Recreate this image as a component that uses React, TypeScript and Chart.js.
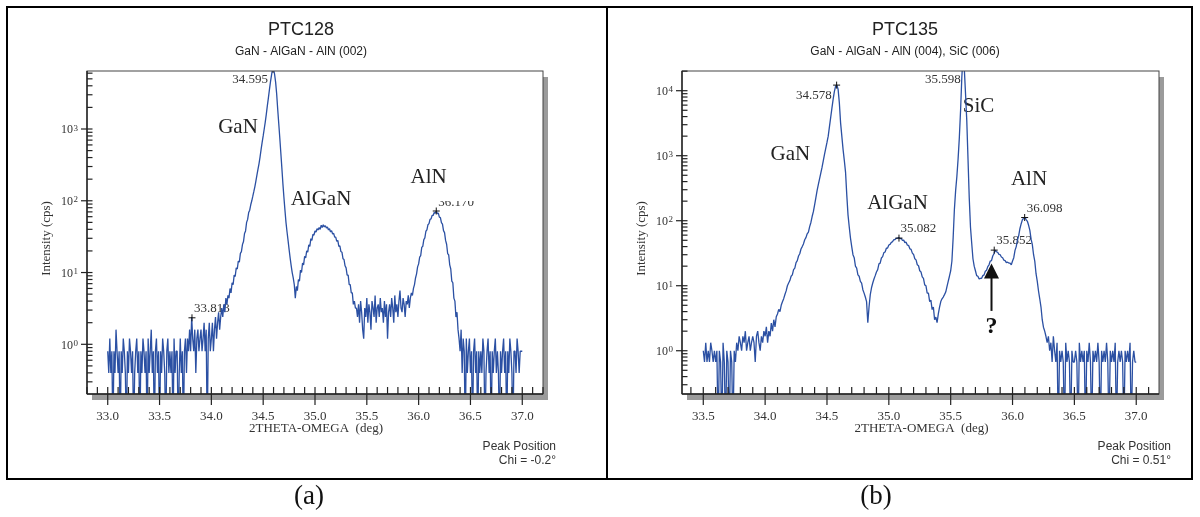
import React, { useEffect, useRef } from 'react';
import { Chart, registerables } from 'chart.js';

Chart.register(...registerables);

// ---------- data (2theta scan step 0.01 deg) ----------
const STEP = 0.01;

const PTC128_START = 33.0;
const PTC128_INTENSITY = [
  0.8, 0.4, 1.2, 0.4, 0.8, 0, 0.8, 0.4, 1.6, 0.8,
  0.4, 0.8, 0, 0.8, 0.4, 1.2, 0.8, 0.4, 0, 0.8,
  0.4, 1.2, 0.8, 0.4, 0.8, 0, 0.4, 0.8, 1.2, 0.4,
  0.8, 0, 0.8, 0.4, 1.2, 0.8, 0.4, 0.8, 0, 1.2,
  0.4, 0.8, 1.6, 0.4, 0.8, 0, 0.8, 1.2, 0.4, 0.8,
  0, 0.8, 0.4, 1.2, 0.8, 0.4, 0, 0.8, 1.2, 0.4,
  0.8, 0.4, 0.8, 0, 1.2, 0.4, 0.8, 0.8, 0, 0.4,
  1.2, 0.4, 0.8, 0, 0.8, 1.2, 0.4, 1.2, 0.8, 1.6,
  0.8, 2.4, 1.2, 0.8, 1.6, 0.4, 1.2, 1.6, 0.8, 1.2,
  1.6, 0.8, 1.2, 2.0, 0.8, 1.6, 0, 1.2, 2.0, 0.8,
  1.2, 2.0, 0.8, 1.6, 2.4, 1.2, 2.0, 2.8, 1.6, 2.4,
  3.2, 2.4, 3.6, 2.8, 4.4, 3.6, 4.8, 4.4, 6.0, 5.2,
  7.2, 6.8, 9.2, 8.8, 11.6, 11.2, 14.4, 14.0, 18.5, 19.6,
  24.5, 27, 35, 38, 50, 55, 68.5, 74, 88, 100,
  116, 135, 158, 190, 230, 275, 330, 410, 520, 650,
  800, 1000, 1250, 1600, 2100, 2700, 3500, 4500, 5600, 6800,
  6800, 5800, 4500, 3100, 1900, 1200, 760, 470, 290, 175,
  112, 74, 50, 37, 28, 21, 16, 12.5, 10, 8.4,
  6.8, 4.4, 6.4, 5.6, 8.0, 7.6, 10.8, 10.0, 13.6, 12.8,
  16.8, 16.0, 20, 19.2, 24.4, 23.2, 29.6, 28.0, 34, 33.2,
  38, 36.8, 40.8, 39.2, 42.4, 40, 45.6, 42.4, 46.4, 43.2,
  44.8, 41.6, 43.2, 39.2, 40.8, 36.8, 38.4, 34.4, 35.2, 31.2,
  31.2, 27.2, 28, 23.2, 23.6, 19.6, 19.2, 15.6, 15.2, 12.4,
  11.6, 9.2, 9.2, 6.8, 6.8, 5.2, 5.2, 3.6, 4.0, 3.2,
  3.2, 2.4, 3.6, 2.0, 4.0, 2.8, 1.6, 1.2, 3.2, 2.4,
  4.4, 2.0, 3.6, 2.8, 1.6, 4.0, 3.2, 2.4, 4.8, 2.0,
  3.2, 3.6, 2.4, 4.4, 2.8, 3.2, 2.0, 4.0, 2.4, 3.6,
  1.2, 2.8, 3.6, 2.4, 4.4, 3.2, 2.0, 4.8, 2.8, 3.6,
  2.4, 4.0, 5.6, 3.2, 2.8, 4.4, 3.6, 2.4, 4.0, 3.6,
  4.8, 3.2, 4.4, 5.2, 4.8, 6.0, 6.8, 8.4, 9.6, 12,
  13.2, 16.4, 17.2, 22.4, 23.2, 28.8, 30.4, 37.6, 39.2, 46.4,
  48, 55.2, 56, 62.4, 62.4, 68.8, 67.2, 72, 66.4, 67.2,
  59.2, 58.4, 49.6, 47.2, 38.4, 36, 28, 24.8, 18.4, 17.6,
  12.8, 11.2, 7.6, 7.2, 4.4, 4.0, 2.4, 2.8, 1.6, 1.2,
  0.8, 1.6, 0.4, 1.2, 0.8, 0, 1.2, 0.4, 0.8, 1.2,
  0.4, 0.8, 0, 0.8, 1.2, 0.4, 0.8, 0, 0.8, 0.4,
  0.8, 0.4, 1.2, 0.8, 0, 0.4, 0.8, 1.2, 0.4, 0.8,
  0, 0.8, 0.4, 0.8, 1.2, 0.4, 0.8, 0.4, 0, 0.8,
  0.4, 0.8, 1.2, 0.4, 0.8, 0, 0.8, 0.4, 1.2, 0.8,
  0.4, 0, 0.8, 0.8, 0.4, 1.2, 0.8, 0.4, 0.8, 0.8,
  0.8,
];

const PTC135_START = 33.5;
const PTC135_INTENSITY = [
  1.0, 0.67, 1.33, 0.67, 1.0, 0.67, 1.33, 1.0, 0.67, 1.0,
  0.67, 1.0, 0, 1.0, 0.67, 0, 1.33, 0.67, 0, 1.0,
  0.67, 0, 1.0, 0.67, 0, 1.0, 0.67, 1.33, 1.0, 1.67,
  1.33, 1.0, 1.67, 1.33, 2.0, 1.0, 1.33, 1.67, 1.0, 1.33,
  1.67, 1.33, 0.67, 1.67, 2.0, 1.33, 1.0, 1.67, 1.33, 2.0,
  1.67, 2.33, 1.33, 2.0, 1.67, 2.67, 2.0, 3.0, 2.33, 3.33,
  3.67, 4.33, 4.0, 5.0, 5.67, 6.33, 7.33, 8.33, 10, 11,
  12, 14, 14.7, 17.7, 18.7, 22.7, 24.3, 28.7, 31, 36.7,
  40, 44, 51, 55, 63, 67, 81, 94, 116, 138,
  175, 225, 290, 360, 440, 540, 660, 830, 1050, 1300,
  1600, 2000, 2800, 3900, 5400, 7400, 9800, 11800, 12200, 10500,
  6500, 3200, 2000, 1250, 850, 560, 250, 123, 80, 54,
  40, 30, 27, 20, 18.7, 14.7, 14, 11.7, 11, 8.7,
  7.7, 6.7, 5.7, 2.7, 4.7, 7.3, 9.3, 11, 12.7, 14.3,
  16.3, 17.7, 21.7, 22.3, 26.7, 28, 32.3, 33, 37.7, 38,
  42.3, 43.3, 46.3, 47.7, 51, 51.3, 53.7, 54, 55.3, 53,
  53.7, 49.7, 50.3, 46, 46.7, 42, 41.7, 37, 36.3, 31.7,
  30.3, 26, 25, 21, 20.3, 17, 16.3, 13.7, 13, 10.3,
  10, 7.7, 7.7, 5.7, 6, 4.3, 4.7, 3, 3.3, 2.7,
  3.7, 4.7, 5.7, 6.3, 6.7, 7.3, 8, 9.7, 11.7, 14,
  17, 24, 55, 150, 290, 480, 900, 1900, 5000, 16000,
  35000, 22000, 9000, 3500, 900, 225, 80, 45, 26, 20,
  17, 14.3, 14, 12.7, 13, 13, 14.3, 14.7, 16.7, 17.3,
  19.7, 21, 24, 24.3, 28.7, 31, 35.3, 33.3, 32.7, 30.3,
  30, 27.7, 27, 24.7, 24.3, 22.7, 23, 22.3, 22.3, 21,
  24, 27, 35, 40, 51, 59, 76, 90, 104, 108,
  113, 104, 98, 85, 71, 52, 43, 30, 23.7, 15.3,
  11.7, 8.3, 6.3, 4.7, 3.0, 2.3, 2.0, 1.67, 1.33, 1.67,
  1.0, 1.33, 0.67, 1.67, 1.0, 0.67, 1.33, 0, 1.0, 0.67,
  1.0, 0.67, 0, 1.33, 0.67, 1.0, 0.67, 0, 1.0, 0.67,
  0.67, 1.0, 0.67, 0, 1.33, 0.67, 1.0, 0.67, 1.0, 0,
  1.0, 0.67, 1.33, 0.67, 0, 1.0, 0.67, 1.0, 0.67, 1.33,
  0.67, 0, 1.0, 0.67, 1.0, 0.67, 1.33, 0.67, 0, 1.0,
  0.67, 1.0, 0.67, 1.33, 0, 0.67, 1.0, 0.67, 1.0, 0.67,
  0, 1.0, 0.67, 1.0, 0.67, 1.33, 0, 0.67, 1.0, 0.67,
  0.67,
];

// peak markers
const PTC128_PEAK_POS = [33.813, 34.595, 36.170];
const PTC128_PEAK_INT = [2.34, 6800, 72];
const PTC128_PEAK_TEXT = ['33.813', '34.595', '36.170'];
const PTC135_PEAK_POS = [34.578, 35.598, 35.082, 35.852, 36.098];
const PTC135_PEAK_INT = [12200, 35000, 54, 35.3, 112];
const PTC135_PEAK_TEXT = ['34.578', '35.598', '35.082', '35.852', '36.098'];

// phase annotations (anchored in data space)
const PTC128_PHASES = ['GaN', 'AlGaN', 'AlN'];
const PTC128_PHASE_POS = [34.257, 35.058, 36.096];
const PTC128_PHASE_INT = [1066, 103, 214];
const PTC135_PHASES = ['GaN', 'AlGaN', 'SiC', 'AlN'];
const PTC135_PHASE_POS = [34.204, 35.07, 35.725, 36.133];
const PTC135_PHASE_INT = [1062, 187, 5675, 433];

// tick labels
const X_TICKS_A = ['33.0', '33.5', '34.0', '34.5', '35.0', '35.5', '36.0', '36.5', '37.0'];
const X_TICKS_B = ['33.5', '34.0', '34.5', '35.0', '35.5', '36.0', '36.5', '37.0'];
const Y_DECADES_A = [0, 1, 2, 3];
const Y_DECADES_B = [0, 1, 2, 3, 4];

const ZERO_FLOOR = 0.05; // zero counts are drawn below the log axis

// ---------- styling / layout ----------
const SERIF = '"Liberation Serif", "Times New Roman", serif';
const SANS = '"Liberation Sans", Arial, sans-serif';
const LINE_COLOR = '#2b50a3';

type PeakLayout = { dx: number; dy: number; align: CanvasTextAlign; clipAbove?: number };

interface PanelCfg {
  width: number;
  height: number;
  area: { left: number; right: number; top: number; bottom: number };
  xMin: number; xMax: number; yMin: number; yMax: number;
  title: string; subtitle: string; titleX: number;
  chi: string; noteRight: number; yTitleX: number;
  xTicks: string[]; yDecades: number[];
  start: number; intensity: number[];
  peakPos: number[]; peakInt: number[]; peakText: string[]; peakLayout: PeakLayout[];
  phaseText: string[]; phasePos: number[]; phaseInt: number[];
  arrow?: { x: number; tip: number; tail: number; mark: number };
}

const PANEL_A: PanelCfg = {
  width: 607, height: 517,
  area: { left: 87, right: 543, top: 71, bottom: 394 },
  xMin: 32.8, xMax: 37.2, yMin: 0.203, yMax: 6430,
  title: 'PTC128', subtitle: 'GaN - AlGaN - AlN (002)', titleX: 301,
  chi: 'Chi = -0.2°', noteRight: 556, yTitleX: 47,
  xTicks: X_TICKS_A, yDecades: Y_DECADES_A,
  start: PTC128_START, intensity: PTC128_INTENSITY,
  peakPos: PTC128_PEAK_POS, peakInt: PTC128_PEAK_INT, peakText: PTC128_PEAK_TEXT,
  peakLayout: [
    { dx: 2, dy: -9, align: 'left' },
    { dx: -5, dy: 9, align: 'right' },
    { dx: 2, dy: -8, align: 'left', clipAbove: 10 },
  ],
  phaseText: PTC128_PHASES, phasePos: PTC128_PHASE_POS, phaseInt: PTC128_PHASE_INT,
};

const PANEL_B: PanelCfg = {
  width: 593, height: 517,
  area: { left: 75, right: 552, top: 71, bottom: 394 },
  xMin: 33.328, xMax: 37.184, yMin: 0.216, yMax: 20100,
  title: 'PTC135', subtitle: 'GaN - AlGaN - AlN (004), SiC (006)', titleX: 298,
  chi: 'Chi = 0.51°', noteRight: 564, yTitleX: 35,
  xTicks: X_TICKS_B, yDecades: Y_DECADES_B,
  start: PTC135_START, intensity: PTC135_INTENSITY,
  peakPos: PTC135_PEAK_POS, peakInt: PTC135_PEAK_INT, peakText: PTC135_PEAK_TEXT,
  peakLayout: [
    { dx: -5, dy: 10.5, align: 'right' },
    { dx: -2, dy: 9, align: 'right' },
    { dx: 1.5, dy: -10, align: 'left' },
    { dx: 2, dy: -10, align: 'left' },
    { dx: 2, dy: -9, align: 'left' },
  ],
  phaseText: PTC135_PHASES, phasePos: PTC135_PHASE_POS, phaseInt: PTC135_PHASE_INT,
  arrow: { x: 35.83, tip: 22, tail: 4.1, mark: 2.3 },
};

function line(ctx: CanvasRenderingContext2D, x1: number, y1: number, x2: number, y2: number) {
  ctx.beginPath();
  ctx.moveTo(x1, y1);
  ctx.lineTo(x2, y2);
  ctx.stroke();
}

function makePlugin(p: PanelCfg) {
  return {
    id: 'xrdPanel',
    beforeDatasetsDraw(chart: any) {
      const { ctx, chartArea: a, scales } = chart;
      const xs = scales.x;
      const ys = scales.y;
      const w = a.right - a.left;
      const h = a.bottom - a.top;
      ctx.save();
      // drop shadow + plot background
      ctx.fillStyle = '#9b9b9b';
      ctx.fillRect(a.left + 5, a.top + 6, w, h);
      ctx.fillStyle = '#ffffff';
      ctx.fillRect(a.left, a.top, w, h);

      // titles
      ctx.fillStyle = '#222';
      ctx.textAlign = 'center';
      ctx.textBaseline = 'middle';
      ctx.font = `18px ${SANS}`;
      ctx.fillText(p.title, p.titleX, a.top - 41);
      ctx.font = `12px ${SANS}`;
      ctx.fillText(p.subtitle, p.titleX, a.top - 19.5);

      // notes
      ctx.textAlign = 'right';
      ctx.fillStyle = '#333';
      ctx.fillText('Peak Position', p.noteRight, a.bottom + 52.7);
      ctx.fillText(p.chi, p.noteRight, a.bottom + 66.7);

      // axis titles
      ctx.fillStyle = '#333';
      ctx.font = `13px ${SERIF}`;
      ctx.textAlign = 'center';
      ctx.fillText('2THETA-OMEGA  (deg)', (a.left + a.right) / 2 + 1, a.bottom + 35);
      ctx.save();
      ctx.translate(p.yTitleX, (a.top + a.bottom) / 2 + 6);
      ctx.rotate(-Math.PI / 2);
      ctx.fillText('Intensity (cps)', 0, 0);
      ctx.restore();

      // phase labels
      ctx.fillStyle = '#222';
      ctx.font = `21px ${SERIF}`;
      ctx.textAlign = 'center';
      p.phaseText.forEach((t, i) => {
        ctx.fillText(t, xs.getPixelForValue(p.phasePos[i]), ys.getPixelForValue(p.phaseInt[i]));
      });

      // peak position labels
      ctx.fillStyle = '#333';
      ctx.font = `13px ${SERIF}`;
      p.peakText.forEach((t, i) => {
        const L = p.peakLayout[i];
        const px = xs.getPixelForValue(p.peakPos[i]);
        const py = Math.max(a.top, ys.getPixelForValue(p.peakInt[i]));
        ctx.save();
        if (L.clipAbove !== undefined) {
          ctx.beginPath();
          ctx.rect(px - 60, py - L.clipAbove, 120, 40);
          ctx.clip();
        }
        ctx.textAlign = L.align;
        ctx.fillText(t, px + L.dx, py + L.dy);
        ctx.restore();
      });

      // arrow with question mark
      if (p.arrow) {
        const ax = xs.getPixelForValue(p.arrow.x);
        const tipY = ys.getPixelForValue(p.arrow.tip);
        const tailY = ys.getPixelForValue(p.arrow.tail);
        ctx.strokeStyle = '#111';
        ctx.fillStyle = '#111';
        ctx.lineWidth = 2;
        line(ctx, ax, tailY, ax, tipY + 12);
        ctx.beginPath();
        ctx.moveTo(ax, tipY);
        ctx.lineTo(ax - 7.5, tipY + 15);
        ctx.lineTo(ax + 7.5, tipY + 15);
        ctx.closePath();
        ctx.fill();
        ctx.font = `bold 24px ${SERIF}`;
        ctx.textAlign = 'center';
        ctx.fillText('?', ax, ys.getPixelForValue(p.arrow.mark));
      }
      ctx.restore();
    },
    afterDatasetsDraw(chart: any) {
      const { ctx, chartArea: a, scales } = chart;
      const xs = scales.x;
      const ys = scales.y;
      ctx.save();
      // frame
      ctx.strokeStyle = '#444';
      ctx.lineWidth = 1;
      ctx.strokeRect(a.left, a.top, a.right - a.left, a.bottom - a.top);
      ctx.strokeStyle = '#222';
      ctx.lineWidth = 1.4;
      line(ctx, a.left, a.top, a.left, a.bottom);
      line(ctx, a.left, a.bottom, a.right, a.bottom);

      // x ticks
      ctx.lineWidth = 1.2;
      const k0 = Math.ceil(p.xMin * 10 - 1e-6);
      const k1 = Math.floor(p.xMax * 10 + 1e-6);
      for (let k = k0; k <= k1; k++) {
        const px = xs.getPixelForValue(k / 10);
        const major = k % 5 === 0;
        line(ctx, px, a.bottom - 7, px, major ? a.bottom + 11 : a.bottom);
      }
      ctx.fillStyle = '#333';
      ctx.font = `13px ${SERIF}`;
      ctx.textAlign = 'center';
      ctx.textBaseline = 'middle';
      p.xTicks.forEach((t) => {
        ctx.fillText(t, xs.getPixelForValue(parseFloat(t)), a.bottom + 22.7);
      });

      // y ticks (log)
      const d0 = Math.floor(Math.log10(p.yMin));
      const d1 = Math.ceil(Math.log10(p.yMax));
      for (let d = d0; d <= d1; d++) {
        for (let m = 1; m <= 9; m++) {
          const v = m * Math.pow(10, d);
          if (v < p.yMin || v > p.yMax) continue;
          const py = ys.getPixelForValue(v);
          line(ctx, a.left - (m === 1 ? 6 : 0), py, a.left + 5.5, py);
        }
      }
      ctx.textBaseline = 'alphabetic';
      p.yDecades.forEach((d) => {
        const py = ys.getPixelForValue(Math.pow(10, d));
        const sup = String(d);
        ctx.font = `9px ${SERIF}`;
        const sw = ctx.measureText(sup).width;
        const xr = a.left - 9;
        ctx.textAlign = 'left';
        ctx.fillText(sup, xr - sw, py + 1.5);
        ctx.font = `12px ${SERIF}`;
        ctx.textAlign = 'right';
        ctx.fillText('10', xr - sw - 0.5, py + 4.2);
      });
      ctx.restore();
    },
  };
}

function makeConfig(p: PanelCfg): any {
  const scan = p.intensity.map((v, i) => ({
    x: +(p.start + i * STEP).toFixed(2),
    y: v > 0 ? v : ZERO_FLOOR,
  }));
  const peaks = p.peakPos.map((x, i) => ({ x, y: p.peakInt[i] }));
  return {
    type: 'line',
    data: {
      datasets: [
        {
          data: peaks,
          showLine: false,
          pointStyle: 'cross',
          pointRadius: 3.5,
          pointBorderColor: '#111',
          pointBorderWidth: 1,
          order: 0,
        },
        {
          data: scan,
          borderColor: LINE_COLOR,
          borderWidth: 1.3,
          pointRadius: 0,
          tension: 0,
          fill: false,
          borderJoinStyle: 'bevel',
          order: 1,
        },
      ],
    },
    options: {
      animation: false,
      responsive: false,
      maintainAspectRatio: false,
      events: [],
      layout: {
        padding: {
          left: p.area.left,
          right: p.width - p.area.right,
          top: p.area.top,
          bottom: p.height - p.area.bottom,
        },
      },
      plugins: {
        legend: { display: false },
        tooltip: { enabled: false },
        title: { display: false },
      },
      scales: {
        x: { type: 'linear', min: p.xMin, max: p.xMax, display: false },
        y: { type: 'logarithmic', min: p.yMin, max: p.yMax, display: false },
      },
    },
    plugins: [makePlugin(p)],
  };
}

export default function App() {
  const refA = useRef<HTMLCanvasElement>(null);
  const refB = useRef<HTMLCanvasElement>(null);

  useEffect(() => {
    const a = new Chart(refA.current as HTMLCanvasElement, makeConfig(PANEL_A));
    const b = new Chart(refB.current as HTMLCanvasElement, makeConfig(PANEL_B));
    return () => {
      a.destroy();
      b.destroy();
    };
  }, []);

  const capStyle = (cx: number): React.CSSProperties => ({
    position: 'absolute',
    left: cx - 50,
    top: 479,
    width: 100,
    height: 32,
    lineHeight: '32px',
    textAlign: 'center',
    fontFamily: SERIF,
    fontSize: 27,
    color: '#111',
  });

  return (
    <div style={{ position: 'absolute', left: 0, top: 0, width: 1200, height: 517, background: '#fff', overflow: 'hidden' }}>
      <canvas ref={refA} width={607} height={517} style={{ position: 'absolute', left: 0, top: 0, width: 607, height: 517 }} />
      <canvas ref={refB} width={593} height={517} style={{ position: 'absolute', left: 607, top: 0, width: 593, height: 517 }} />
      <div style={{ position: 'absolute', left: 6, top: 6, width: 1187, height: 474, border: '2px solid #000', boxSizing: 'border-box', pointerEvents: 'none' }} />
      <div style={{ position: 'absolute', left: 606, top: 6, width: 2, height: 474, background: '#000' }} />
      <div style={capStyle(309)}>(a)</div>
      <div style={capStyle(876)}>(b)</div>
    </div>
  );
}
